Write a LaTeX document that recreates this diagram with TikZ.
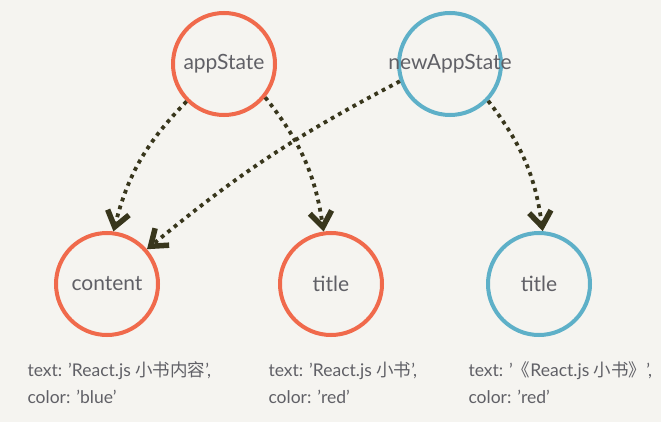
\documentclass[tikz,border=0pt]{standalone}
\usepackage{fontspec}
\usepackage{tikz}
\usetikzlibrary{arrows.meta}
\setmainfont{Lato}
\newfontfamily\cjkFont{Noto Sans CJK SC}
\definecolor{paperColor}{RGB}{245,244,240}
\definecolor{oldStateColor}{RGB}{240,106,76}
\definecolor{newStateColor}{RGB}{94,176,200}
\definecolor{arrowColor}{RGB}{56,54,28}
\definecolor{labelColor}{RGB}{96,96,102}
\tikzstyle{stateTree} = [x = 1pt, y = -1pt]
\tikzstyle{stateCircle} = [circle, minimum size = 102pt, inner sep = 0pt, line width = 4pt]
\tikzstyle{stateText} = [font = \fontsize{21}{24}\selectfont, text = labelColor]
\tikzstyle{propText} = [font = \fontsize{17.5}{27}\selectfont, text = labelColor, align = left, anchor = base west]
\tikzstyle{updateArrow} = [arrowColor, line width = 3.8pt, dash pattern = on 3.8pt off 4.5pt,
  -{Straight Barb[length = 15pt, width = 22pt, line width = 5.5pt]}]
\newcommand{\stateNode}[4]{\node [stateCircle, draw = #3, label = {[stateText]center:#4}] (#1) at (#2) {};}

\begin{document}
\begin{tikzpicture}[stateTree]
  \fill [paperColor] (0,0) rectangle (661,422);
  \useasboundingbox (0,0) rectangle (661,422);

  \stateNode{appState}{224,64}{oldStateColor}{appState}
  \stateNode{newAppState}{450,64}{newStateColor}{newAppState}
  \stateNode{content}{107,284}{oldStateColor}{content}
  \stateNode{oldTitle}{331,284}{oldStateColor}{title}
  \stateNode{newTitle}{539,284}{newStateColor}{title}

  \draw [updateArrow] (appState.225) to [bend right = 15] (content.83);
  \draw [updateArrow] (appState.321) to [bend left = 15] (oldTitle.98);
  \draw [updateArrow] (newAppState.199) to [bend right = 6] (content.41);
  \draw [updateArrow] (newAppState.316) to [bend left = 15] (newTitle.86);

  % multi-line nodes sit on the baseline of their last line
  \node [propText] (contentProps) at (24,403) {text: 'React.js {\cjkFont 小书内容}',\\color: 'blue'};
  \node [propText] (oldTitleProps) at (265,403) {text: 'React.js {\cjkFont 小书}',\\color: 'red'};
  \node [propText] (newTitleProps) at (465,403) {text: '{\cjkFont 《}React.js {\cjkFont 小书》}',\\color: 'red'};
\end{tikzpicture}
\end{document}
